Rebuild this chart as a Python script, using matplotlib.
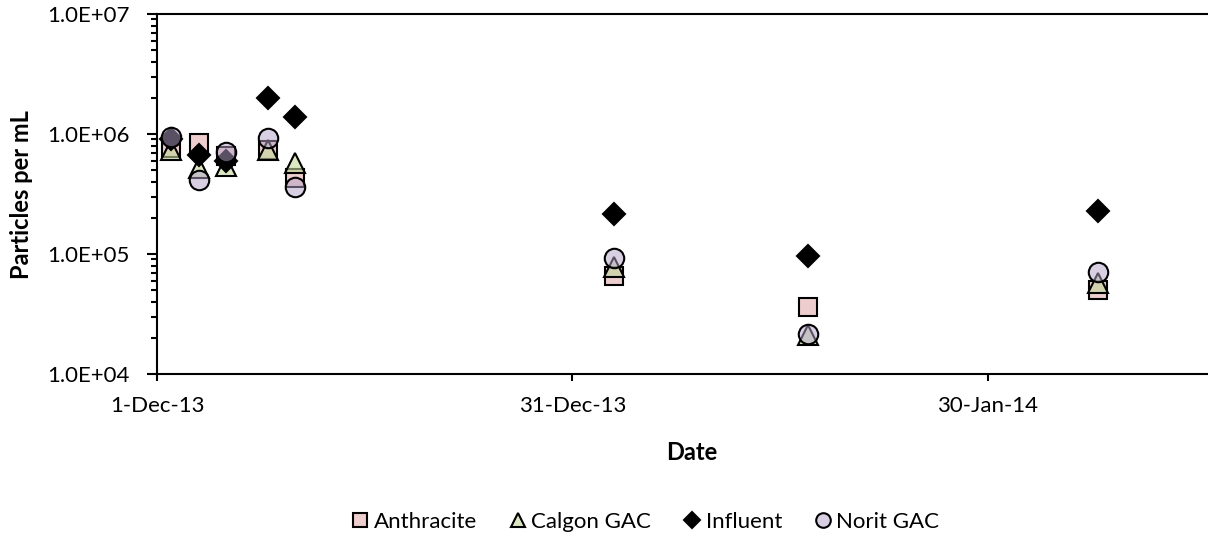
import matplotlib
matplotlib.use("Agg")
import matplotlib.pyplot as plt
import matplotlib.dates as mdates
from matplotlib.ticker import LogLocator, FuncFormatter, NullFormatter, FixedLocator
from datetime import datetime, timedelta

plt.rcParams['font.family'] = ['Lato', 'DejaVu Sans']

## sampling dates and particle counts per filter media
dates = ["2013-12-02", "2013-12-04", "2013-12-06", "2013-12-09", "2013-12-11",
         "2014-01-03", "2014-01-17", "2014-02-07"]
anthracite = [7.6e5, 8.4e5, 6.5e5, 7.4e5, 4.3e5, 6.6e4, 3.6e4, 5.0e4]
calgon_gac = [7.3e5, 5.2e5, 5.4e5, 7.3e5, 5.7e5, 7.8e4, 2.1e4, 5.7e4]
influent = [9.0e5, 6.7e5, 5.9e5, 2.0e6, 1.38e6, 2.15e5, 9.6e4, 2.28e5]
norit_gac = [9.5e5, 4.1e5, 7.1e5, 9.2e5, 3.6e5, 9.2e4, 2.15e4, 7.1e4]

x = [datetime.strptime(d, "%Y-%m-%d") for d in dates]
start = datetime(2013, 12, 1)

W, H = 1208, 540
fig = plt.figure(figsize=(W / 100, H / 100), dpi=100)
ax = fig.add_axes([157 / W, 1 - 374 / H, (1207 - 157) / W, 360 / H])

series = [
    ("Anthracite", anthracite, "s", (0.902, 0.725, 0.722, 0.7), 13),
    ("Calgon GAC", calgon_gac, "^", (0.765, 0.839, 0.608, 0.6), 14),
    ("Influent", influent, "D", (0, 0, 0, 1), 11),
    ("Norit GAC", norit_gac, "o", (0.702, 0.635, 0.780, 0.5), 14),
]
for name, vals, mk, fc, ms in series:
    ax.plot(x, vals, linestyle="none", marker=mk, markersize=ms,
            markerfacecolor=fc, markeredgecolor="black", markeredgewidth=1.5,
            label=name, clip_on=False)

ax.set_yscale("log")
ax.set_ylim(1e4, 1e7)
ax.yaxis.set_major_locator(LogLocator(base=10, numticks=10))
ax.yaxis.set_minor_locator(LogLocator(base=10, subs=range(2, 10), numticks=10))
ax.yaxis.set_major_formatter(FuncFormatter(lambda v, p: f"{v:.1E}"))
ax.yaxis.set_minor_formatter(NullFormatter())

ax.set_xlim(mdates.date2num(start), mdates.date2num(start + timedelta(days=75.85)))
xt = [start + timedelta(days=d) for d in (0, 30, 60)]
ax.xaxis.set_major_locator(FixedLocator(mdates.date2num(xt)))
ax.xaxis.set_major_formatter(FuncFormatter(
    lambda v, p: f"{mdates.num2date(v).day}-{mdates.num2date(v).strftime('%b-%y')}"))

ax.spines['right'].set_visible(False)
for s in ('left', 'bottom', 'top'):
    ax.spines[s].set_linewidth(1.5)
ax.tick_params(axis='y', which='major', direction='out', length=7, width=1.5,
               labelsize=16, pad=13)
ax.tick_params(axis='y', which='minor', direction='out', length=4, width=1.5)
ax.tick_params(axis='x', which='major', direction='out', length=5, width=1.5,
               labelsize=16, pad=11)

fig.text(22 / W, 1 - 195 / H, "Particles per mL", rotation=90, ha='center',
         va='center', fontsize=17, fontweight='bold')
fig.text(692 / W, 1 - 452 / H, "Date", ha='center', va='center',
         fontsize=17, fontweight='bold')

fig.legend(loc='center', bbox_to_anchor=(646 / W, 1 - 522 / H), ncol=4,
           frameon=False, fontsize=16, markerscale=0.75, handlelength=0.7,
           handletextpad=0.25, columnspacing=1.5, borderaxespad=0)

fig.savefig("out.png", dpi=100)
